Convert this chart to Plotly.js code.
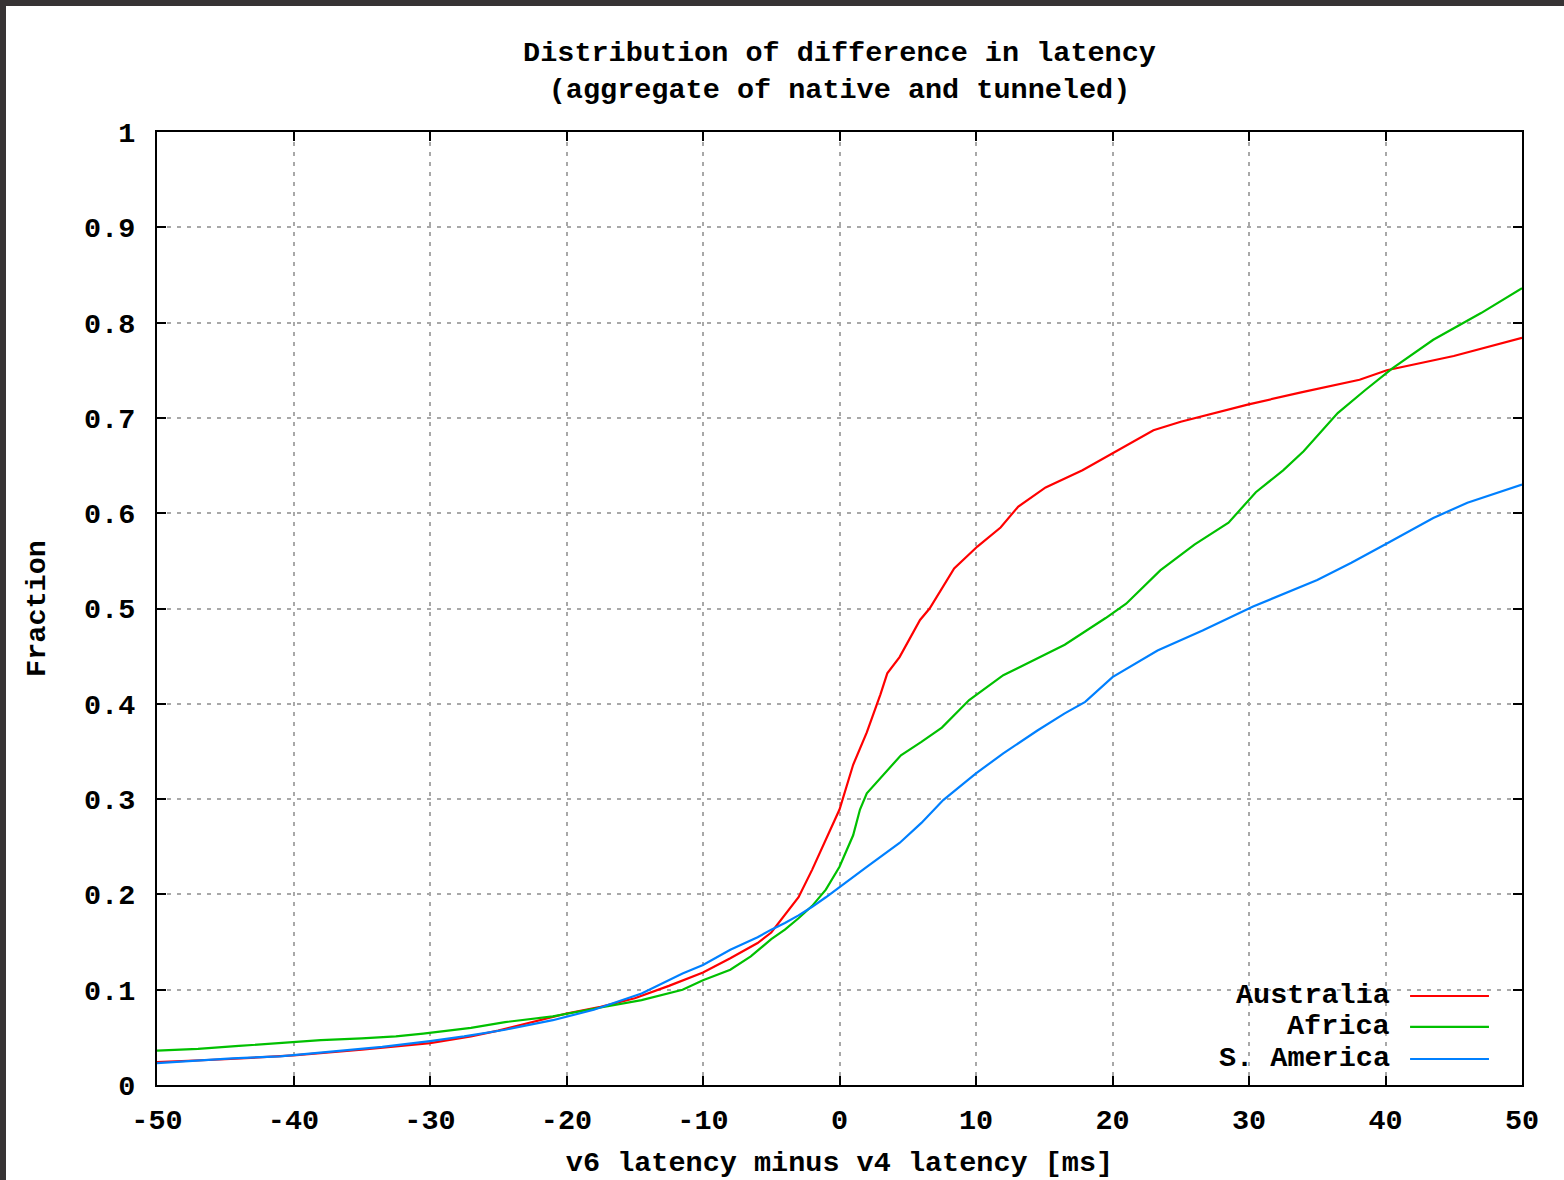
<!DOCTYPE html>
<html>
<head>
<meta charset="utf-8">
<script src="https://cdn.plot.ly/plotly-3.0.1.min.js"></script>
<style>
  html, body { margin: 0; padding: 0; background: #373334; width: 1564px; height: 1180px; overflow: hidden; }
  #chart { position: absolute; left: 6px; top: 6px; width: 1558px; height: 1174px; background: #ffffff; }
</style>
</head>
<body>
<div id="chart"></div>
<script>
// ---- data ----
const seriesNames = ["Australia", "Africa", "S. America"];

const australiaX = [-50, -45, -40, -35, -30, -27, -25, -22, -20, -17.5, -15, -12.5, -10, -8, -6, -5, -4, -3, -2, -1, 0, 1, 2, 3, 3.5, 4.4, 5.9, 6.6, 8.4, 10.1, 11.8, 13.1, 15.1, 17.8, 20.4, 23, 25, 27.5, 29.9, 33.9, 38.1, 40.1, 45, 50];
const australiaY = [0.024, 0.027, 0.031, 0.037, 0.044, 0.051, 0.057, 0.068, 0.075, 0.082, 0.091, 0.104, 0.118, 0.133, 0.149, 0.160, 0.178, 0.197, 0.226, 0.257, 0.289, 0.336, 0.370, 0.410, 0.432, 0.449, 0.488, 0.500, 0.542, 0.565, 0.585, 0.607, 0.627, 0.645, 0.666, 0.687, 0.696, 0.705, 0.714, 0.727, 0.740, 0.750, 0.765, 0.784];

const africaX = [-50, -47, -44, -41, -38, -35, -32.5, -30.5, -28.5, -27, -24.5, -21, -18, -14.5, -11.5, -10, -8, -6.5, -5, -4, -3, -2, -1, 0, 1, 1.5, 2, 3, 4.5, 6, 7.5, 9.5, 12, 16.5, 19.5, 21, 23.5, 26, 28.5, 30.5, 32.5, 34, 36.5, 38.5, 40.5, 43.5, 47, 50];
const africaY = [0.036, 0.038, 0.041, 0.044, 0.047, 0.049, 0.051, 0.054, 0.057, 0.060, 0.066, 0.072, 0.080, 0.089, 0.100, 0.110, 0.121, 0.135, 0.153, 0.163, 0.175, 0.188, 0.205, 0.229, 0.262, 0.289, 0.306, 0.322, 0.346, 0.360, 0.375, 0.404, 0.430, 0.462, 0.490, 0.505, 0.540, 0.567, 0.590, 0.622, 0.645, 0.665, 0.705, 0.729, 0.752, 0.782, 0.810, 0.836];

const sAmericaX = [-50, -44.5, -41, -36.5, -33.5, -30, -27.5, -24.5, -21, -18, -14.5, -11.5, -10, -8, -6, -5, -4, -3, -2, -1, 0, 2, 4.4, 6, 7.6, 10, 12, 14.5, 16.5, 18, 20, 23.3, 26.6, 30.3, 35, 37.5, 40.2, 43.5, 46, 50];
const sAmericaY = [0.023, 0.028, 0.030, 0.036, 0.040, 0.046, 0.051, 0.058, 0.068, 0.079, 0.096, 0.117, 0.126, 0.142, 0.155, 0.163, 0.170, 0.178, 0.187, 0.197, 0.208, 0.229, 0.254, 0.275, 0.299, 0.327, 0.348, 0.372, 0.390, 0.402, 0.428, 0.456, 0.477, 0.502, 0.530, 0.548, 0.569, 0.595, 0.611, 0.630];

const xTickVals = [-50, -40, -30, -20, -10, 0, 10, 20, 30, 40, 50];
const xTickText = ["-50", "-40", "-30", "-20", "-10", "0", "10", "20", "30", "40", "50"];
const yTickVals = [0, 0.1, 0.2, 0.3, 0.4, 0.5, 0.6, 0.7, 0.8, 0.9, 1];
const yTickText = ["0", "0.1", "0.2", "0.3", "0.4", "0.5", "0.6", "0.7", "0.8", "0.9", "1"];

const colors = ["#ff0000", "#00c000", "#0080ff"];
const FONT = "Liberation Mono, DejaVu Sans Mono, monospace";
const FS = 28.5;

const xs = [australiaX, africaX, sAmericaX];
const ys = [australiaY, africaY, sAmericaY];

const traces = seriesNames.map((name, i) => ({
  type: "scatter",
  mode: "lines",
  name: name,
  x: xs[i],
  y: ys[i],
  line: { color: colors[i], width: 2.2 },
  showlegend: false
}));

// gnuplot-style key: text right-aligned, sample line to the right
const keyRowsY = [0.0934, 0.0609, 0.0273];
const annotations = seriesNames.map((name, i) => ({
  xref: "paper", yref: "paper",
  x: 0.9045, y: keyRowsY[i],
  xanchor: "right", yanchor: "middle",
  text: name, showarrow: false,
  font: { family: FONT, size: FS, color: "#000000", weight: "bold" }
}));
const shapes = seriesNames.map((name, i) => ({
  type: "line", xref: "paper", yref: "paper",
  x0: 0.918, x1: 0.9758, y0: keyRowsY[i], y1: keyRowsY[i],
  line: { color: colors[i], width: 2.2 }
}));

const axisCommon = {
  showline: true, linecolor: "#000000", linewidth: 2, mirror: "allticks",
  ticks: "inside", ticklen: 9, tickwidth: 2, tickcolor: "#000000",
  showgrid: true, gridcolor: "#a8a8a8", gridwidth: 2, griddash: "4px,6px",
  zeroline: false,
  tickfont: { family: FONT, size: FS, color: "#000000", weight: "bold" }
};

const layout = {
  width: 1558, height: 1174,
  margin: { l: 151, r: 42, t: 126, b: 95 },
  paper_bgcolor: "#ffffff", plot_bgcolor: "#ffffff",
  title: {
    text: "Distribution of difference in latency<br>(aggregate of native and tunneled)",
    x: 0.5, xref: "paper", xanchor: "center",
    y: 0.953, yref: "container", yanchor: "top",
    font: { family: FONT, size: FS, color: "#000000", weight: "bold" }
  },
  xaxis: Object.assign({}, axisCommon, {
    range: [-50, 50],
    tickmode: "array", tickvals: xTickVals, ticktext: xTickText,
    ticklabelstandoff: 8,
    title: { text: "v6 latency minus v4 latency [ms]", standoff: 16,
             font: { family: FONT, size: FS, color: "#000000", weight: "bold" } }
  }),
  yaxis: Object.assign({}, axisCommon, {
    range: [0, 1],
    tickmode: "array", tickvals: yTickVals, ticktext: yTickText,
    ticklabelstandoff: 14,
    title: { text: "Fraction", standoff: 30,
             font: { family: FONT, size: FS, color: "#000000", weight: "bold" } }
  }),
  annotations: annotations,
  shapes: shapes
};

Plotly.newPlot("chart", traces, layout, { displayModeBar: false, staticPlot: true });
</script>
</body>
</html>
